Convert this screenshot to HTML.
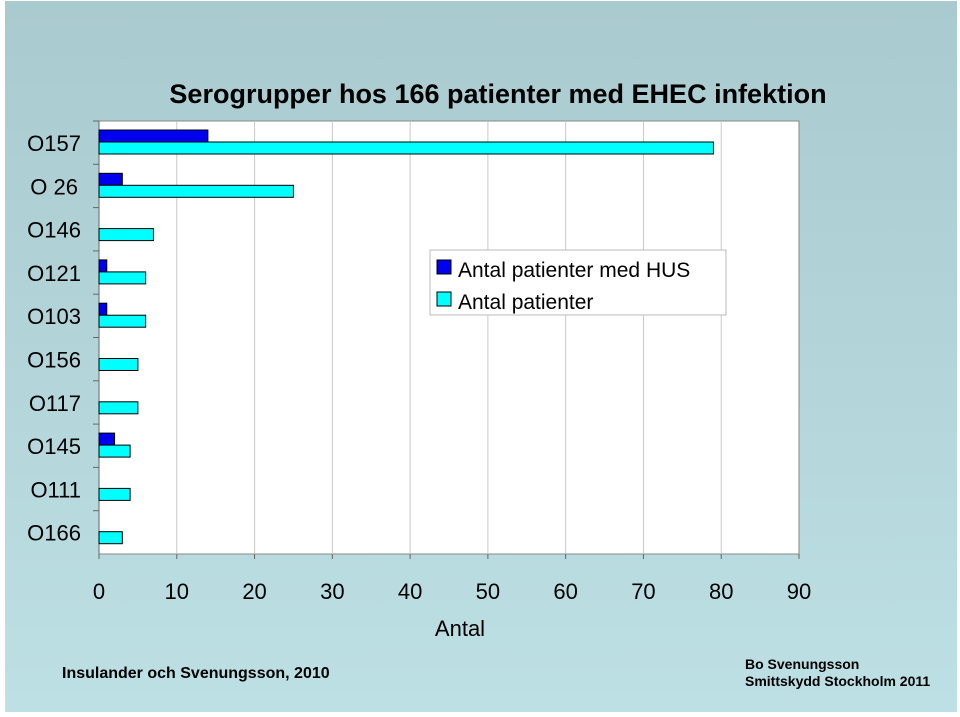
<!DOCTYPE html>
<html><head><meta charset="utf-8"><style>
body{margin:0;width:960px;height:717px;background:#fff;overflow:hidden;font-family:"Liberation Sans",sans-serif}
#bg{position:absolute;left:5px;top:1px;width:952px;height:711px;background:linear-gradient(#a9cace,#bde0e4)}
svg{position:absolute;left:0;top:0}
</style></head><body>
<div id="bg"></div>
<svg width="960" height="717" id="chart">
<text x="498" y="103" text-anchor="middle" font-size="27" font-weight="bold" fill="#000">Serogrupper hos 166 patienter med EHEC infektion</text>
<rect x="99" y="121" width="700" height="433" fill="#fff" stroke="#888"/>
<g id="grid"></g><g id="bars"></g><g id="labels"></g>
<text x="460" y="636" text-anchor="middle" font-size="22">Antal</text>
<g>
<rect x="430" y="250" width="296" height="65" fill="#fff" stroke="#bbb"/>
<rect x="437" y="260" width="14" height="14" fill="#0000ee" stroke="#000"/>
<text x="458" y="277" font-size="21">Antal patienter med HUS</text>
<rect x="437" y="292" width="14" height="14" fill="#00ffff" stroke="#000"/>
<text x="458" y="309" font-size="21">Antal patienter</text>
</g>
<text x="62" y="678" font-size="16" font-weight="bold">Insulander och Svenungsson, 2010</text>
<text x="745" y="669" font-size="14" font-weight="bold">Bo Svenungsson</text>
<text x="745" y="686" font-size="14" font-weight="bold">Smittskydd Stockholm 2011</text>
</svg>
<script>
const categories=["O157","O 26","O146","O121","O103","O156","O117","O145","O111","O166"];
const husValues=[14,3,0,1,1,0,0,2,0,0];
const totalValues=[79,25,7,6,6,5,5,4,4,3];
const xTicks=[0,10,20,30,40,50,60,70,80,90];
const NS="http://www.w3.org/2000/svg";
const x0=99,x1=799,y0=121,y1=554,xmax=90;
const band=(y1-y0)/categories.length;
const xs=v=>x0+(x1-x0)*v/xmax;
const grid=document.getElementById('grid'),bars=document.getElementById('bars'),labels=document.getElementById('labels');
function mk(tag,attrs,parent){const e=document.createElementNS(NS,tag);for(const k in attrs)e.setAttribute(k,attrs[k]);parent.appendChild(e);return e;}
xTicks.forEach(t=>{
 const x=xs(t);
 if(t>0&&t<xmax){const l=mk('line',{x1:x,x2:x,y1:y0,y2:y1,stroke:'#c8c8c8'},grid);
 
 }
 const tk=mk('line',{x1:x,x2:x,y1:y1,y2:y1+5,stroke:'#666'},grid);
 
 
 const tx=mk('text',{x:x,y:599,'text-anchor':'middle','font-size':22},labels);tx.textContent=t;
 
 
});
categories.forEach((c,i)=>{
 const top=y0+i*band;
 const tk=mk('line',{x1:x0-6,x2:x0,y1:top,y2:top,stroke:'#666'},grid);
 
 
 const lb=mk('text',{x:c==="O 26"?78:81,y:top+30,'text-anchor':'end','font-size':22},labels);lb.textContent=c;
 
 
 if(husValues[i]>0){const b=mk('rect',{x:x0,y:top+9,width:xs(husValues[i])-x0,height:12,fill:'#0000ee',stroke:'#000','stroke-width':1},bars);
 
 }
 const b2=mk('rect',{x:x0,y:top+21,width:xs(totalValues[i])-x0,height:12,fill:'#00ffff',stroke:'#000','stroke-width':1},bars);
 
 
});
const ax=mk('line',{x1:x0,x2:x0,y1:y0,y2:y1,stroke:'#666'},grid);


</script>
</body></html>
